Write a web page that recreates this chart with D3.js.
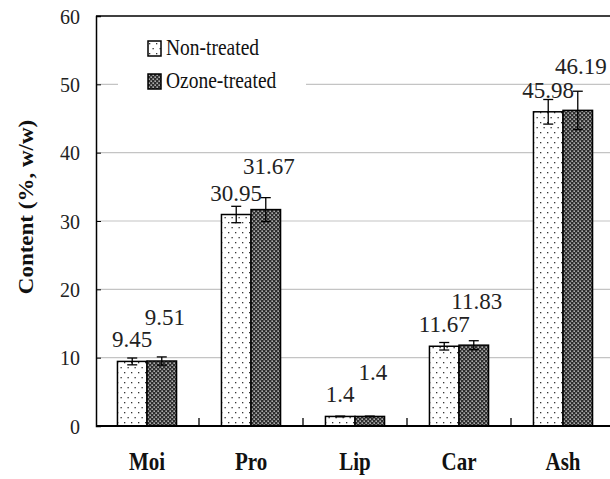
<!DOCTYPE html>
<html>
<head>
<meta charset="utf-8">
<script src="https://cdnjs.cloudflare.com/ajax/libs/d3/7.8.5/d3.min.js"></script>
<style>
  body { margin: 0; background: #fff; }
  svg { display: block; }
</style>
</head>
<body>
<svg width="610" height="479"></svg>
<script>
// chart data
const categories = ['Moi', 'Pro', 'Lip', 'Car', 'Ash'];
const seriesNames = ['Non-treated', 'Ozone-treated'];
const nonTreated = [9.45, 30.95, 1.4, 11.67, 45.98];
const ozoneTreated = [9.51, 31.67, 1.4, 11.83, 46.19];
const nonTreatedErr = [0.5, 1.2, 0.05, 0.55, 1.8];
const ozoneTreatedErr = [0.6, 1.75, 0.05, 0.65, 2.8];
const yTicks = [0, 10, 20, 30, 40, 50, 60];

const values = [nonTreated, ozoneTreated];
const errors = [nonTreatedErr, ozoneTreatedErr];

const svg = d3.select('svg');
const serif = 'Liberation Serif';
const narrow = 'Liberation Sans Narrow';

const plotLeft = 96, plotTop = 16, plotBottom = 426, plotRight = 615;

const x0 = d3.scaleBand().domain(categories).range([plotLeft - 1, plotRight]);
const x1 = d3.scaleBand().domain(seriesNames).range([0, x0.bandwidth()]).paddingOuter(0.76);
const y = d3.scaleLinear().domain([0, 60]).range([plotBottom, plotTop]);

// patterns
const defs = svg.append('defs');
const dots = defs.append('pattern').attr('id', 'dots')
  .attr('patternUnits', 'userSpaceOnUse').attr('width', 7).attr('height', 10);
dots.append('rect').attr('width', 7).attr('height', 10).attr('fill', '#fff');
dots.append('rect').attr('x', 1).attr('y', 2).attr('width', 1.3).attr('height', 1.3).attr('fill', '#333');
dots.append('rect').attr('x', 4.5).attr('y', 7).attr('width', 1.3).attr('height', 1.3).attr('fill', '#333');

const hatch = defs.append('pattern').attr('id', 'hatch')
  .attr('patternUnits', 'userSpaceOnUse').attr('width', 4).attr('height', 4);
hatch.append('rect').attr('width', 4).attr('height', 4).attr('fill', '#2e2e2e');
hatch.append('rect').attr('x', 0.5).attr('y', 0.5).attr('width', 1.3).attr('height', 1.3).attr('fill', '#f0f0f0');
hatch.append('rect').attr('x', 2.5).attr('y', 2.5).attr('width', 1.3).attr('height', 1.3).attr('fill', '#f0f0f0');

const fills = ['url(#dots)', 'url(#hatch)'];

// gridlines
svg.append('g').selectAll('line')
  .data(yTicks.filter(d => d > 0 && d < 60))
  .join('line')
  .attr('x1', plotLeft).attr('x2', 610)
  .attr('y1', d => y(d)).attr('y2', d => y(d))
  .attr('stroke', '#c4c4c4').attr('stroke-width', 1.2);

// y axis with inward ticks
const yAxis = svg.append('g')
  .attr('transform', `translate(${plotLeft},0)`)
  .call(d3.axisLeft(y).tickValues(yTicks).tickSize(-5).tickPadding(16));
yAxis.attr('font-family', serif);
yAxis.select('.domain').attr('stroke', '#000').attr('stroke-width', 1.5);
yAxis.selectAll('.tick line').attr('stroke', '#000');
yAxis.selectAll('.tick text')
  .style('font-family', serif).attr('font-size', 20).attr('fill', '#222')
  .attr('dy', '0.35em');

// top border
svg.append('line').attr('x1', plotLeft).attr('x2', 610).attr('y1', plotTop).attr('y2', plotTop)
  .attr('stroke', '#000').attr('stroke-width', 1.5);

// legend box (covers gridline)
svg.append('rect').attr('x', 118).attr('y', 30).attr('width', 188).attr('height', 68).attr('fill', '#fff');

// bars
const groups = svg.append('g').selectAll('g')
  .data(categories)
  .join('g')
  .attr('transform', d => `translate(${x0(d)},0)`);

seriesNames.forEach((s, si) => {
  groups.append('rect')
    .attr('x', x1(s))
    .attr('width', x1.bandwidth())
    .attr('y', (d, i) => y(values[si][i]))
    .attr('height', (d, i) => plotBottom - y(values[si][i]))
    .attr('fill', fills[si])
    .attr('stroke', '#000').attr('stroke-width', 1.5);
});

// error bars
seriesNames.forEach((s, si) => {
  const cx = x1(s) + x1.bandwidth() / 2;
  const eb = groups.append('g');
  eb.append('line')
    .attr('x1', cx).attr('x2', cx)
    .attr('y1', (d, i) => y(values[si][i] + errors[si][i]))
    .attr('y2', (d, i) => y(values[si][i] - errors[si][i]))
    .attr('stroke', '#000').attr('stroke-width', 1.3);
  [1, -1].forEach(sign => {
    eb.append('line')
      .attr('x1', cx - 5).attr('x2', cx + 5)
      .attr('y1', (d, i) => y(values[si][i] + sign * errors[si][i]))
      .attr('y2', (d, i) => y(values[si][i] + sign * errors[si][i]))
      .attr('stroke', '#000').attr('stroke-width', 1.3);
  });
});

// value labels
const labelLift = [14, 36];
const labelShift = [0, 3];
seriesNames.forEach((s, si) => {
  groups.append('text')
    .attr('x', x1(s) + x1.bandwidth() / 2 + labelShift[si])
    .attr('y', (d, i) => y(values[si][i]) - labelLift[si])
    .attr('text-anchor', 'middle')
    .style('font-family', narrow).attr('font-size', 23).attr('fill', '#222')
    .text((d, i) => values[si][i]);
});

// x axis
const xAxis = svg.append('g')
  .attr('transform', `translate(0,${plotBottom})`)
  .call(d3.axisBottom(x0).tickSize(0).tickPadding(0));
xAxis.select('.domain').remove();
svg.append('line').attr('x1', plotLeft).attr('x2', 610).attr('y1', plotBottom).attr('y2', plotBottom)
  .attr('stroke', '#000').attr('stroke-width', 2);
xAxis.selectAll('.tick text')
  .style('font-family', serif).attr('font-weight', 'bold').attr('font-size', 21).attr('fill', '#111')
  .attr('dy', null).attr('y', 0)
  .attr('transform', 'translate(0,44) scale(1,1.15)');
// category boundary ticks (inward)
svg.append('g').selectAll('line')
  .data(categories.slice(1))
  .join('line')
  .attr('x1', d => x0(d)).attr('x2', d => x0(d))
  .attr('y1', plotBottom).attr('y2', plotBottom - 8)
  .attr('stroke', '#000').attr('stroke-width', 1.3);

// y axis title
svg.append('text')
  .attr('transform', `translate(33,${(plotTop + plotBottom) / 2 - 14}) rotate(-90) scale(1.15,1)`)
  .attr('text-anchor', 'middle')
  .style('font-family', serif).attr('font-weight', 'bold').attr('font-size', 20).attr('fill', '#111')
  .text('Content (%, w/w)');

// legend
const legend = svg.append('g').selectAll('g')
  .data(seriesNames)
  .join('g')
  .attr('transform', (d, i) => `translate(148,${41 + i * 33})`);
legend.append('rect')
  .attr('width', 13).attr('height', 15)
  .attr('fill', (d, i) => fills[i])
  .attr('stroke', '#000').attr('stroke-width', 1.5);
legend.append('text')
  .attr('transform', 'translate(18,14) scale(1,1.2)')
  .style('font-family', serif).attr('font-size', 19.5).attr('fill', '#111')
  .text(d => d);
</script>
</body>
</html>
